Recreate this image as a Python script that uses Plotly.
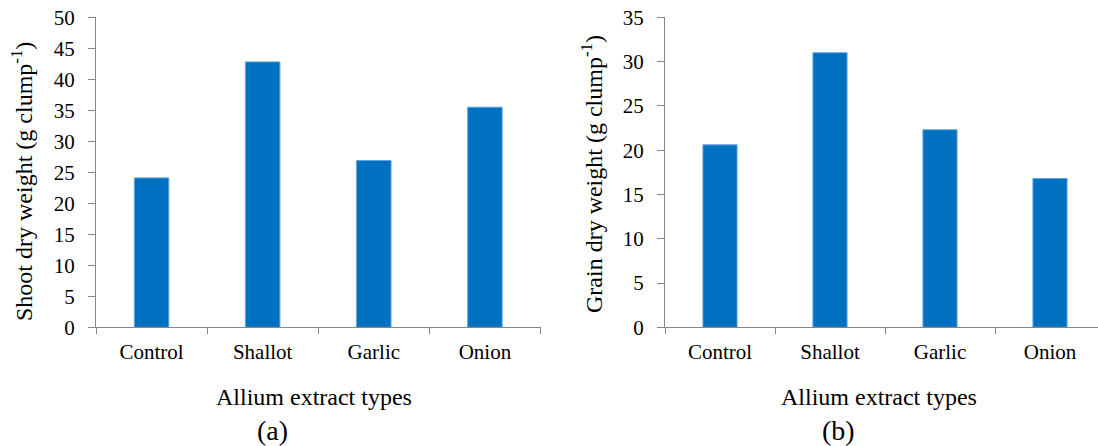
import plotly.graph_objects as go

categories = ["Control", "Shallot", "Garlic", "Onion"]
shoot_dry_weight = [24.1, 42.8, 26.9, 35.5]
grain_dry_weight = [20.6, 31.0, 22.3, 16.8]
shoot_ticks = [0, 5, 10, 15, 20, 25, 30, 35, 40, 45, 50]
grain_ticks = [0, 5, 10, 15, 20, 25, 30, 35]

W, H = 1098, 446
FONT = "Liberation Serif, Times New Roman, serif"
BAR = "#0070C0"
AXIS = "#868686"

def px(x):
    return x / W

def py(y):
    return 1 - y / H

fig = go.Figure()
fig.add_trace(go.Bar(x=categories, y=shoot_dry_weight, marker=dict(color=BAR, line=dict(color="#5EA3DE", width=1)),
                     xaxis="x", yaxis="y", showlegend=False))
fig.add_trace(go.Bar(x=categories, y=grain_dry_weight, marker=dict(color=BAR, line=dict(color="#5EA3DE", width=1)),
                     xaxis="x2", yaxis="y2", showlegend=False))

ydom = [py(327.3), py(17.3)]
xcommon = dict(type="category", showgrid=False, showline=True, linecolor=AXIS, linewidth=1, automargin=False,
               ticks="outside", tickson="boundaries", ticklen=6, tickcolor=AXIS, tickwidth=1,
               tickfont=dict(family=FONT, size=21, color="#000"), ticklabelstandoff=5)
ycommon = dict(showgrid=False, showline=True, linecolor=AXIS, linewidth=1, zeroline=False, automargin=False,
               ticks="outside", ticklen=7, tickcolor=AXIS, tickwidth=1,
               tickfont=dict(family=FONT, size=21, color="#000"), ticklabelstandoff=9)

fig.update_layout(
    width=W, height=H, margin=dict(l=0, r=0, t=0, b=0, autoexpand=False),
    paper_bgcolor="white", plot_bgcolor="white", bargap=0.69,
    xaxis=dict(domain=[px(96), px(540.5)], range=[-0.5, 3.5], anchor="y", **xcommon),
    yaxis=dict(domain=ydom, range=[0, 50], tickvals=shoot_ticks, anchor="x", **ycommon),
    xaxis2=dict(domain=[px(665), 1.0], range=[-0.5, -0.5 + 433 / 110], anchor="y2", **xcommon),
    yaxis2=dict(domain=ydom, range=[0, 35], tickvals=grain_ticks, anchor="x2", **ycommon),
)

def ann(text, x, y, size, angle=0):
    fig.add_annotation(text=text, x=px(x), y=py(y), xref="paper", yref="paper", showarrow=False,
                       xanchor="center", yanchor="middle", textangle=angle, borderpad=0,
                       font=dict(family=FONT, size=size, color="#000"))

ann("Shoot dry weight (g clump<sup>-1</sup>)", 22, 182, 24, -90)
ann("Grain dry weight (g clump<sup>-1</sup>)", 592, 174, 24, -90)
ann("Allium extract types", 314, 397, 24)
ann("Allium extract types", 879, 397, 24)
ann("(a)", 272, 430, 28)
ann("(b)", 838, 430, 28)

fig.write_html("out.html", config={"displayModeBar": False},
               post_script="document.body.style.margin='0';document.body.style.overflow='hidden';")
